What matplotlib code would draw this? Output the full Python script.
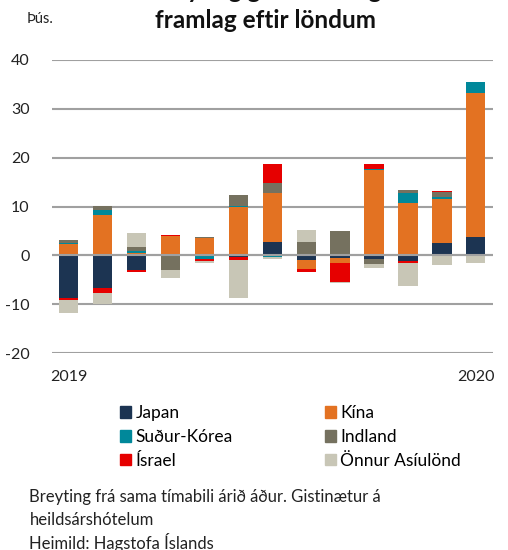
import numpy as np
import matplotlib
matplotlib.use("Agg")
import matplotlib.pyplot as plt
from matplotlib.patches import Patch

plt.rcParams['font.family'] = ['Lato', 'DejaVu Sans']
plt.rcParams['axes.unicode_minus'] = False

# months Jan 2019 .. Jan 2020
months = ["2019", "", "", "", "", "", "", "", "", "", "", "", "2020"]

japan = [-8.8, -6.7, -2.9, 0.2, 0.0, -0.35, 2.8, -0.9, -0.6, -0.75, -1.2, 2.6, 3.8]
kina = [2.4, 8.3, 0.4, 3.8, 3.5, 9.9, 9.9, -1.8, -1.0, 17.4, 10.7, 8.9, 29.5]
korea = [0.1, 1.0, 0.5, 0.0, -0.8, 0.15, -0.3, 0.3, 0.0, 0.3, 2.0, 0.35, 2.1]
indland = [0.55, 0.75, 0.8, -3.0, 0.3, 2.3, 2.2, 2.5, 4.9, -0.95, 0.6, 1.15, 0.0]
israel = [-0.3, -1.0, -0.4, 0.1, -0.35, -0.6, 3.8, -0.8, -3.8, 1.0, -0.35, 0.1, 0.15]
onnur = [-2.7, -2.2, 2.9, -1.7, -0.5, -7.7, -0.5, 2.4, -0.2, -0.95, -4.65, -2.0, -1.5]

series = [
    ("Japan", japan, "#1c3452"),
    ("Kína", kina, "#e37222"),
    ("Suður-Kórea", korea, "#00889a"),
    ("Indland", indland, "#75715f"),
    ("Ísrael", israel, "#e60000"),
    ("Önnur Asíulönd", onnur, "#c8c6b6"),
]

fig = plt.figure(figsize=(5.08, 5.50), dpi=100)
ax = fig.add_axes([0.102, 0.358, 0.868, 0.533])

x = np.arange(len(months))
pos_base = np.zeros(len(months))
neg_base = np.zeros(len(months))
for name, vals, col in series:
    v = np.array(vals)
    p = np.where(v > 0, v, 0)
    n = np.where(v < 0, v, 0)
    ax.bar(x, p, 0.57, bottom=pos_base, color=col, zorder=2)
    ax.bar(x, n, 0.57, bottom=neg_base, color=col, zorder=2)
    pos_base += p
    neg_base += n

ax.set_ylim(-20, 40)
ax.set_xlim(-0.5, len(months) - 0.5)
ax.set_yticks(range(-20, 41, 10))
ax.yaxis.grid(True, color="#a0a0a0", lw=1.5, zorder=0)
ax.axhline(0, color="#a0a0a0", lw=1.5, zorder=3)
for s in ax.spines.values():
    s.set_visible(False)
ax.tick_params(axis="both", length=0, labelsize=11.5, colors="#222222")
ax.tick_params(axis="y", pad=16)
ax.tick_params(axis="x", pad=12)
ax.set_xticks(x)
ax.set_xticklabels(months)

fig.text(0.053, 0.966, "Þús.", fontsize=10.5, va="center", color="#222222")
# first title line sits mostly above the top edge, as in the source image
fig.text(0.522, 1 + 9 / 550, "Breyting gistinátta og", fontsize=17.5,
         fontweight="bold", ha="center", va="center", color="#111111")
fig.text(0.522, 1 - 20 / 550, "framlag eftir löndum", fontsize=17.5,
         fontweight="bold", ha="center", va="center", color="#111111")

handles = [Patch(color=c, label=n) for n, _, c in series]
order = [0, 2, 4, 1, 3, 5]
fig.legend([handles[i] for i in order], [series[i][0] for i in order], ncol=2,
           loc="upper left", bbox_to_anchor=(0.222, 0.276), frameon=False, fontsize=12.5,
           handlelength=0.65, handleheight=0.65, handletextpad=0.25,
           columnspacing=5.3, labelspacing=0.45, borderaxespad=0)

fig.text(0.058, 1 - 497 / 550, "Breyting frá sama tímabili árið áður. Gistinætur á",
         fontsize=12, va="center", color="#222222")
fig.text(0.058, 1 - 520 / 550, "heildsárshótelum",
         fontsize=12, va="center", color="#222222")
fig.text(0.058, 1 - 542 / 550, "Heimild: Hagstofa Íslands",
         fontsize=12, va="center", color="#222222")

fig.savefig("out.png", dpi=100)
